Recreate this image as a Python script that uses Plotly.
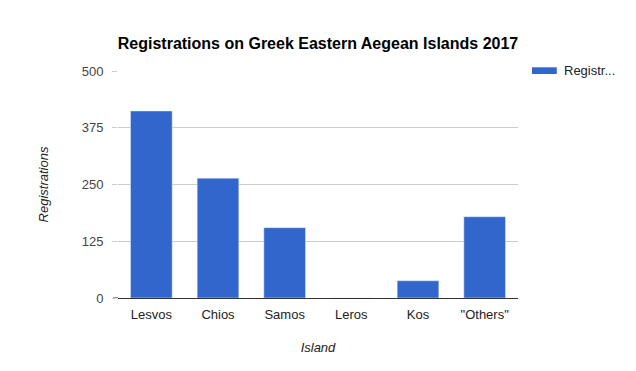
import plotly.graph_objects as go

islands = ["Lesvos", "Chios", "Samos", "Leros", "Kos", "\"Others\""]
registrations = [412, 264, 155, 0, 38, 179]
y_ticks = [0, 125, 250, 375, 500]
series_label = "Registr..."

fig = go.Figure()
fig.add_trace(go.Bar(x=islands, y=registrations, marker_color="#3366cc",
                     showlegend=False, name="Registrations"))

fig.update_layout(
    width=636, height=371,
    margin=dict(l=110, r=126, t=63, b=81),
    paper_bgcolor="white", plot_bgcolor="white",
    font=dict(family="Liberation Sans, Arial", size=13, color="#222222"),
    title=dict(text="<b>Registrations on Greek Eastern Aegean Islands 2017</b>",
               xref="paper", x=0.5, xanchor="center", y=1 - 35/371, yanchor="middle",
               font=dict(size=16, color="#000000")),
    bargap=0.375,
    xaxis=dict(title=dict(text="<i>Island</i>", standoff=22, font=dict(size=13, color="#222222")),
               showline=True, linecolor="#333333", linewidth=1,
               tickfont=dict(size=13, color="#222222"), ticks="", showgrid=False,
               ticklabelstandoff=4),
    yaxis=dict(title=dict(text="<i>Registrations</i>", standoff=30, font=dict(size=13, color="#222222")),
               range=[0, 500], tickvals=y_ticks, showgrid=True, gridcolor="#cccccc",
               zeroline=False, tickfont=dict(size=13, color="#444444"),
               ticks="outside", ticklen=5, tickcolor="#cccccc", tickwidth=1,
               ticklabelstandoff=6),
)

fig.add_shape(type="line", xref="paper", yref="y", x0=-5/400, x1=0, y0=0, y1=0,
              line=dict(color="#333333", width=1))
fig.add_shape(type="rect", xref="paper", yref="paper", x0=1.035, x1=1.097, y0=0.9868, y1=1.0163,
              fillcolor="#3366cc", line=dict(width=0))
fig.add_annotation(text=series_label, xref="paper", yref="paper", x=1.11, y=1.0016,
                   xanchor="left", yanchor="middle", showarrow=False,
                   font=dict(size=13, color="#222222"))

fig.write_html("out.html")
